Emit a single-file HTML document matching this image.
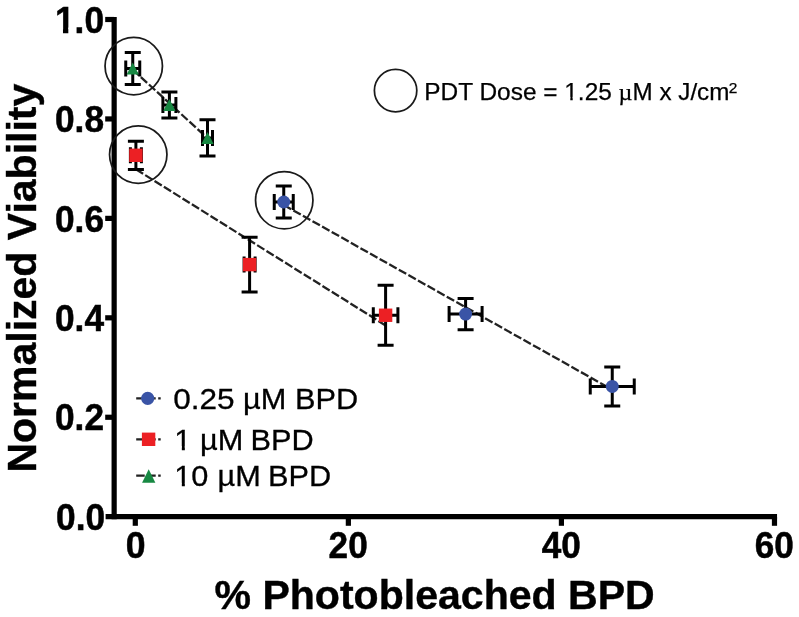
<!DOCTYPE html>
<html lang="en"><head><meta charset="utf-8"><title>Normalized Viability vs % Photobleached BPD</title>
<style>html,body{margin:0;padding:0;background:#fff}body{width:799px;height:617px;overflow:hidden}svg{display:block}text{font-family:"Liberation Sans",Arial,Helvetica,sans-serif;fill:#000}</style>
</head><body>
<svg width="799" height="617" viewBox="0 0 799 617">
<rect width="799" height="617" fill="#fff"/>
<g stroke="#222" stroke-width="2.3" stroke-dasharray="8.5 2.5" fill="none">
<line x1="132.75" y1="69.60" x2="207.50" y2="138.20"/>
<line x1="135.90" y1="169.30" x2="385.60" y2="325.40"/>
<line x1="283.75" y1="205.00" x2="612.25" y2="389.70"/>
</g>
<g stroke="#000" stroke-width="5.2" fill="none" stroke-linecap="butt">
<path d="M114.15 17 V519.30"/>
<path d="M105.6 516.70 H777.05"/>
<path d="M105.2 417.26 H114.15"/>
<path d="M105.2 317.82 H114.15"/>
<path d="M105.2 218.38 H114.15"/>
<path d="M105.2 118.94 H114.15"/>
<path d="M105.2 19.50 H114.15"/>
<path d="M135.30 516.70 V525.8"/>
<path d="M348.36 516.70 V525.8"/>
<path d="M561.42 516.70 V525.8"/>
<path d="M774.48 516.70 V525.8"/>
</g>
<g font-weight="bold" font-size="36" stroke="#000" stroke-width="0.5">
<text x="56.1" y="529.90" textLength="49" lengthAdjust="spacingAndGlyphs">0.0</text>
<text x="55.0" y="430.46" textLength="49" lengthAdjust="spacingAndGlyphs">0.2</text>
<text x="55.0" y="331.02" textLength="49" lengthAdjust="spacingAndGlyphs">0.4</text>
<text x="55.0" y="231.58" textLength="49" lengthAdjust="spacingAndGlyphs">0.6</text>
<text x="55.0" y="132.14" textLength="49" lengthAdjust="spacingAndGlyphs">0.8</text>
<text x="55.0" y="32.70" textLength="49" lengthAdjust="spacingAndGlyphs">1.0</text>
<text x="125.70" y="557.8" textLength="19.8" lengthAdjust="spacingAndGlyphs">0</text>
<text x="328.61" y="557.8" textLength="39.1" lengthAdjust="spacingAndGlyphs">20</text>
<text x="541.67" y="557.8" textLength="39.1" lengthAdjust="spacingAndGlyphs">40</text>
<text x="754.73" y="557.8" textLength="39.1" lengthAdjust="spacingAndGlyphs">60</text>
</g>
<text x="214.5" y="609" font-weight="bold" font-size="40.2" textLength="440.2" lengthAdjust="spacingAndGlyphs" stroke="#000" stroke-width="0.4">% Photobleached BPD</text>
<text transform="translate(35.5 472.6) rotate(-90)" font-weight="bold" font-size="40.2" textLength="388.9" lengthAdjust="spacingAndGlyphs" stroke="#000" stroke-width="0.4">Normalized Viability</text>
<g stroke="#000" stroke-width="3" fill="none">
<path d="M132.75 52.40 V84.40 M124.75 52.40 H140.75 M124.75 84.40 H140.75"/>
<path d="M125.75 68.40 H139.75 M125.75 60.40 V76.40 M139.75 60.40 V76.40"/>
<path d="M169.40 91.90 V117.90 M161.40 91.90 H177.40 M161.40 117.90 H177.40"/>
<path d="M162.90 104.90 H175.90 M162.90 96.90 V112.90 M175.90 96.90 V112.90"/>
<path d="M207.50 119.80 V156.00 M199.50 119.80 H215.50 M199.50 156.00 H215.50"/>
<path d="M202.50 137.90 H212.50 M202.50 129.90 V145.90 M212.50 129.90 V145.90"/>
<path d="M135.90 141.20 V169.40 M127.90 141.20 H143.90 M127.90 169.40 H143.90"/>
<path d="M130.40 155.30 H141.40 M130.40 147.30 V163.30 M141.40 147.30 V163.30"/>
<path d="M249.60 237.30 V291.90 M241.60 237.30 H257.60 M241.60 291.90 H257.60"/>
<path d="M244.10 264.60 H255.10 M244.10 256.60 V272.60 M255.10 256.60 V272.60"/>
<path d="M385.60 285.25 V345.25 M377.60 285.25 H393.60 M377.60 345.25 H393.60"/>
<path d="M373.30 315.25 H397.90 M373.30 307.25 V323.25 M397.90 307.25 V323.25"/>
<path d="M283.75 186.00 V218.00 M275.75 186.00 H291.75 M275.75 218.00 H291.75"/>
<path d="M274.25 202.00 H293.25 M274.25 194.00 V210.00 M293.25 194.00 V210.00"/>
<path d="M465.60 298.50 V329.70 M457.60 298.50 H473.60 M457.60 329.70 H473.60"/>
<path d="M449.10 314.10 H482.10 M449.10 306.10 V322.10 M482.10 306.10 V322.10"/>
<path d="M612.25 366.90 V405.90 M604.25 366.90 H620.25 M604.25 405.90 H620.25"/>
<path d="M590.25 386.40 H634.25 M590.25 378.40 V394.40 M634.25 378.40 V394.40"/>
</g>
<path d="M132.75 62.60 L138.85 74.60 L126.65 74.60 Z" fill="#178842"/>
<path d="M169.40 99.10 L175.50 111.10 L163.30 111.10 Z" fill="#178842"/>
<path d="M207.50 132.10 L213.60 144.10 L201.40 144.10 Z" fill="#178842"/>
<rect x="129.20" y="148.60" width="13.4" height="13.4" fill="#ec2024"/>
<rect x="242.90" y="257.90" width="13.4" height="13.4" fill="#ec2024"/>
<rect x="378.90" y="308.55" width="13.4" height="13.4" fill="#ec2024"/>
<circle cx="283.75" cy="202.00" r="6.5" fill="#3a54a6"/>
<circle cx="465.60" cy="314.10" r="6.5" fill="#3a54a6"/>
<circle cx="612.25" cy="386.40" r="6.5" fill="#3a54a6"/>
<g stroke="#1a1a1a" stroke-width="1.75" fill="none">
<circle cx="133.75" cy="66.1" r="28.7"/>
<circle cx="138.25" cy="154.6" r="28.7"/>
<circle cx="284.25" cy="200.2" r="28.7"/>
<circle cx="395.6" cy="90.6" r="21.2"/>
</g>
<g font-size="24" stroke="#000" stroke-width="0.25">
<text y="100" font-size="24.3"><tspan x="424.3" textLength="187.5" lengthAdjust="spacingAndGlyphs">PDT Dose = 1.25</tspan> <tspan x="618.6" font-size="24" style="font-family:'Liberation Serif','DejaVu Serif',serif">µ</tspan><tspan x="632.6" textLength="96.8" lengthAdjust="spacingAndGlyphs">M x J/cm</tspan><tspan x="728.7" y="92.5" font-size="15.5">2</tspan></text>
</g>
<g stroke="#222" stroke-width="2.3" stroke-dasharray="8.5 2.5" fill="none">
<path d="M136.2 398.3 H160.7"/><path d="M136.2 439.3 H160.7"/><path d="M136.2 475.7 H160.7"/>
</g>
<circle cx="147.7" cy="398.3" r="6.6" fill="#3a54a6"/>
<rect x="141.9" y="432.6" width="13.4" height="13.4" fill="#ec2024"/>
<path d="M148.7 469.3 L155.4 482.7 L142.1 482.7 Z" fill="#178842"/>
<g font-size="29.3" stroke="#000" stroke-width="0.3">
<text y="408.70"><tspan x="173.25" textLength="61.40" lengthAdjust="spacingAndGlyphs">0.25</tspan> <tspan x="243.00" textLength="43.27" lengthAdjust="spacingAndGlyphs">µM</tspan> <tspan x="295.00" textLength="63.13" lengthAdjust="spacingAndGlyphs">BPD</tspan></text>
<text y="449.70"><tspan x="174.25" textLength="17.08" lengthAdjust="spacingAndGlyphs">1</tspan> <tspan x="200.00" textLength="43.27" lengthAdjust="spacingAndGlyphs">µM</tspan> <tspan x="250.60" textLength="63.13" lengthAdjust="spacingAndGlyphs">BPD</tspan></text>
<text y="486.40"><tspan x="174.25" textLength="34.16" lengthAdjust="spacingAndGlyphs">10</tspan> <tspan x="217.50" textLength="43.27" lengthAdjust="spacingAndGlyphs">µM</tspan> <tspan x="268.00" textLength="63.13" lengthAdjust="spacingAndGlyphs">BPD</tspan></text>
</g>
<rect x="55.47" y="27.58" width="7.51" height="7.37" fill="#fff"/>
<rect x="68.32" y="27.58" width="7.31" height="7.37" fill="#fff"/>
<rect x="564.51" y="96.86" width="5.79" height="5.27" fill="#fff"/>
<rect x="572.71" y="96.86" width="5.72" height="5.27" fill="#fff"/>
<rect x="174.94" y="446.16" width="6.88" height="5.69" fill="#fff"/>
<rect x="184.84" y="446.16" width="6.79" height="5.69" fill="#fff"/>
<rect x="174.94" y="482.86" width="6.88" height="5.69" fill="#fff"/>
<rect x="184.84" y="482.86" width="6.79" height="5.69" fill="#fff"/>
</svg></body></html>
